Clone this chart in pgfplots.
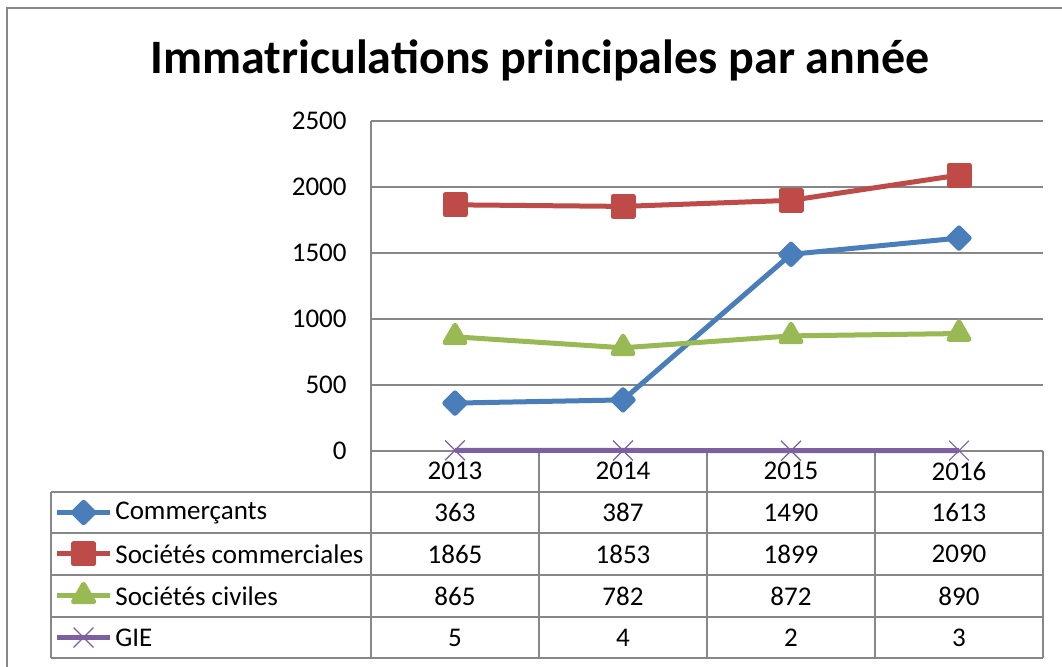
\documentclass[border=0pt]{standalone}
\usepackage{fontspec}
\setmainfont{Carlito}
\usepackage{pgfplots}
\pgfplotsset{compat=1.18}
\definecolor{cblue}{HTML}{4A7EBB}
\definecolor{cred}{HTML}{BE4B48}
\definecolor{cgreen}{HTML}{98B954}
\definecolor{cpurple}{HTML}{7D60A0}
\definecolor{gridgray}{HTML}{878787}
\newcommand{\tabfont}{\fontsize{13.5}{16}\selectfont}
\begin{document}
\begin{tikzpicture}[x=0.5pt,y=0.5pt]
\useasboundingbox (0,0) rectangle (1062,666);
\draw[gridgray, line width=0.9pt] (7,-10) -- (7,658) -- (1075,658);
\node[font=\bfseries\fontsize{24}{28}\selectfont] at (540,606) {Immatriculations principales par année};
\begin{axis}[
  at={(185.5pt,107.5pt)}, anchor=south west, scale only axis,
  width=336pt, height=165pt,
  xmin=-0.5, xmax=3.5, ymin=0, ymax=2500,
  ytick={0,500,...,2500}, xtick=\empty,
  ymajorgrids, grid style={gridgray, line width=0.85pt},
  axis x line*=bottom, axis y line*=left,
  axis line style={gridgray, line width=0.85pt, -},
  major tick length=0pt,
  tick label style={font=\tabfont},
  yticklabel style={inner sep=0pt, xshift=-12pt},
  /pgf/number format/assume math mode=true,
  /pgf/number format/set thousands separator={},
  clip=false,
  line join=round,
]
% data table grid
\draw[gridgray, line width=0.85pt] (-2.405,-310.6) -- (3.5,-310.6)
  (-2.405,-621.2) -- (3.5,-621.2)
  (-2.405,-939.4) -- (3.5,-939.4)
  (-2.405,-1257.6) -- (3.5,-1257.6)
  (-2.405,-1568.2) -- (3.5,-1568.2)
  (-2.405,-310.6) -- (-2.405,-1568.2)
  (-0.5,0) -- (-0.5,-1568.2)
  (0.5,0) -- (0.5,-1568.2)
  (1.5,0) -- (1.5,-1568.2)
  (2.5,0) -- (2.5,-1568.2)
  (3.5,0) -- (3.5,-1568.2);
% header
\node[font=\tabfont] at (0,-151.5) {2013};
\node[font=\tabfont] at (1,-151.5) {2014};
\node[font=\tabfont] at (2,-151.5) {2015};
\node[font=\tabfont] at (3,-151.5) {2016};
\node[font=\tabfont] at (0,-466) {363};
\node[font=\tabfont] at (1,-466) {387};
\node[font=\tabfont] at (2,-466) {1490};
\node[font=\tabfont] at (3,-466) {1613};
\node[font=\tabfont] at (0,-780) {1865};
\node[font=\tabfont] at (1,-780) {1853};
\node[font=\tabfont] at (2,-780) {1899};
\node[font=\tabfont] at (3,-780) {2090};
\node[font=\tabfont] at (0,-1098) {865};
\node[font=\tabfont] at (1,-1098) {782};
\node[font=\tabfont] at (2,-1098) {872};
\node[font=\tabfont] at (3,-1098) {890};
\node[font=\tabfont] at (0,-1413) {5};
\node[font=\tabfont] at (1,-1413) {4};
\node[font=\tabfont] at (2,-1413) {2};
\node[font=\tabfont] at (3,-1413) {3};
\node[font=\tabfont, anchor=west, inner sep=0pt] at (-2.024,-466) {Commerçants};
\node[font=\tabfont, anchor=west, inner sep=0pt] at (-2.024,-780) {Sociétés commerciales};
\node[font=\tabfont, anchor=west, inner sep=0pt] at (-2.024,-1098) {Sociétés civiles};
\node[font=\tabfont, anchor=west, inner sep=0pt] at (-2.024,-1413) {GIE};
% legend keys
\addplot[forget plot, cblue, line width=2.5pt, mark=square*, mark size=3.6pt, mark options={rotate=45}, mark indices={2}] coordinates {(-2.369,-466) (-2.211,-466) (-2.054,-466)};
\addplot[forget plot, cred, line width=2.5pt, mark=square*, mark size=5pt, mark indices={2}] coordinates {(-2.369,-780) (-2.211,-780) (-2.054,-780)};
\addplot[forget plot, cgreen, line width=2.5pt, mark=triangle*, mark size=5.8pt, mark indices={2}] coordinates {(-2.369,-1098) (-2.211,-1098) (-2.054,-1098)};
\addplot[forget plot, cpurple, line width=2.5pt, mark=x, mark size=7pt, mark options={line width=0.6pt}, mark indices={2}] coordinates {(-2.369,-1413) (-2.211,-1413) (-2.054,-1413)};
% series
\addplot[cblue, line width=2.5pt, mark=square*, mark size=3.6pt, mark options={rotate=45}] coordinates {(0,363)(1,387)(2,1490)(3,1613)};
\addplot[cred, line width=2.5pt, mark=square*, mark size=5pt] coordinates {(0,1865)(1,1853)(2,1899)(3,2090)};
\addplot[cgreen, line width=2.5pt, mark=triangle*, mark size=5.8pt] coordinates {(0,865)(1,782)(2,872)(3,890)};
\addplot[cpurple, line width=2.5pt, mark=x, mark size=7pt, mark options={line width=0.6pt}] coordinates {(0,5)(1,4)(2,2)(3,3)};
\end{axis}
\end{tikzpicture}
\end{document}
